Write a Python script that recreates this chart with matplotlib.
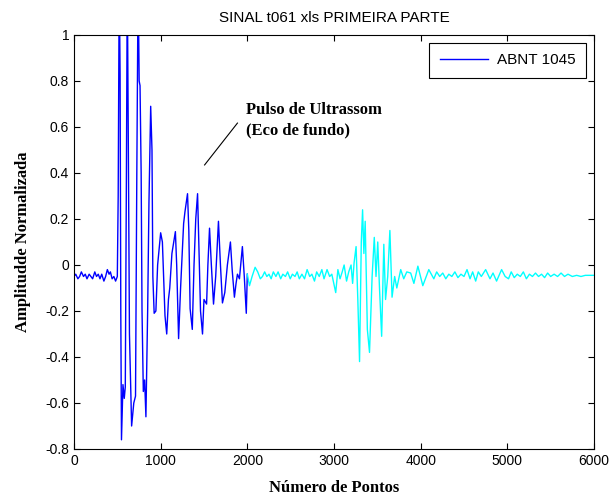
import matplotlib
matplotlib.use('Agg')
import matplotlib.pyplot as plt

# sinal: pulso (0-2000) e eco de fundo (2000-6000)
pulse_x = [0, 20, 45, 65, 85, 110, 130, 150, 175, 195, 215, 240, 260, 280, 300, 320, 345,
           365, 385, 405, 420, 440, 460, 480, 500,
           510, 522, 532, 540, 548, 565, 580, 592, 605, 615, 628, 640, 665, 690, 710, 725,
           740, 752, 762, 775, 785, 800, 815, 830, 850, 865, 885, 900, 910, 925, 945, 965,
           1000, 1020, 1050, 1070, 1090, 1105, 1130, 1170, 1185, 1207, 1230, 1265, 1280,
           1310, 1325, 1340, 1365, 1385, 1405, 1426, 1440, 1460, 1483, 1500, 1530, 1545,
           1564, 1585, 1610, 1635, 1667, 1690, 1713, 1740, 1770, 1805, 1825, 1851, 1870,
           1886, 1909, 1943, 1965, 1988, 2000]
pulse_y = [-0.05, -0.04, -0.06, -0.05, -0.03, -0.05, -0.04, -0.06, -0.04, -0.05, -0.06, -0.03,
           -0.05, -0.04, -0.06, -0.04, -0.07, -0.05, -0.02, -0.04, -0.03, -0.06, -0.05, -0.07,
           -0.05,
           0.3, 1.25, 0.83, -0.2, -0.76, -0.52, -0.58, -0.53, 0.4, 1.25, 0.46, -0.3, -0.70,
           -0.60, -0.57, 0.4, 1.25, 0.8, 0.78, 0.4, -0.2, -0.55, -0.50, -0.66, -0.2, 0.27,
           0.69, 0.5, -0.05, -0.21, -0.20, 0.0,
           0.14, 0.10, -0.22, -0.30, -0.15, -0.10, 0.05, 0.145, 0.0, -0.32, -0.1, 0.18, 0.23,
           0.31, 0.15, -0.19, -0.28, 0.0, 0.2, 0.31, 0.1, -0.2, -0.30, -0.15, -0.17, 0.0,
           0.16, 0.0, -0.17, -0.05, 0.19, 0.0, -0.165, -0.12, 0.0, 0.10, -0.02, -0.14, -0.08,
           -0.04, -0.06, 0.08, -0.05, -0.21, -0.04]

# ruido antes do eco
noise_x = [2000, 2025, 2055, 2090, 2120, 2150, 2175, 2200, 2225, 2250, 2275, 2300,
           2330, 2355, 2385, 2410, 2440, 2465, 2495, 2520, 2550, 2575, 2600, 2630,
           2660, 2690, 2720, 2745, 2775, 2800, 2830, 2860, 2885, 2920, 2950, 2975,
           3020, 3045, 3070, 3095, 3117, 3145, 3170, 3197, 3215]
noise_y = [-0.04, -0.09, -0.05, -0.01, -0.03, -0.06, -0.05, -0.03, -0.05, -0.04, -0.06, -0.03,
           -0.05, -0.03, -0.06, -0.04, -0.05, -0.03, -0.06, -0.04, -0.05, -0.03, -0.06, -0.04,
           -0.06, -0.02, -0.05, -0.04, -0.07, -0.03, -0.05, -0.02, -0.06, -0.02, -0.05, -0.04,
           -0.12, -0.02, -0.06, -0.03, 0.0, -0.07, -0.03, 0.0, -0.08]

# eco de fundo
echo_x = [3232, 3255, 3275, 3295, 3315, 3330, 3345, 3360, 3385, 3410, 3440,
          3465, 3485, 3505, 3525, 3550, 3575, 3595, 3620, 3645, 3670, 3700, 3725,
          3770, 3805, 3840, 3885, 3922, 3968, 4025, 4094, 4152]
echo_y = [0.01, 0.08, -0.15, -0.42, 0.10, 0.24, 0.05, 0.19, -0.28, -0.38, -0.05,
          0.12, -0.05, 0.10, -0.10, -0.31, 0.09, -0.15, -0.05, 0.15, -0.14, -0.05, -0.10,
          -0.02, -0.06, -0.03, -0.035, -0.08, -0.005, -0.09, -0.02, -0.06]

# ruido depois do eco
tail_x = [4185, 4220, 4255, 4290, 4325, 4360, 4395, 4430, 4465, 4500,
          4535, 4570, 4600, 4635, 4665, 4700, 4750, 4800, 4835, 4876,
          4934, 4975, 5014, 5045, 5080, 5115, 5150, 5185, 5220, 5255,
          5290, 5325, 5360, 5395, 5430, 5465, 5500, 5540, 5580, 5620,
          5660, 5700, 5750, 5800, 5850, 5900, 5950, 6000]
tail_y = [-0.03, -0.05, -0.035, -0.06, -0.04, -0.05, -0.03, -0.055, -0.04, -0.05,
          -0.02, -0.06, -0.03, -0.07, -0.03, -0.05, -0.02, -0.06, -0.035, -0.07,
          -0.02, -0.05, -0.06, -0.03, -0.055, -0.04, -0.05, -0.03, -0.06, -0.04,
          -0.05, -0.035, -0.05, -0.04, -0.055, -0.035, -0.05, -0.04, -0.05, -0.035,
          -0.05, -0.04, -0.05, -0.045, -0.05, -0.045, -0.045, -0.045]

x_ticks = [0, 1000, 2000, 3000, 4000, 5000, 6000]
y_ticks = [-0.8, -0.6, -0.4, -0.2, 0, 0.2, 0.4, 0.6, 0.8, 1]
y_tick_labels = ['-0.8', '-0.6', '-0.4', '-0.2', '0', '0.2', '0.4', '0.6', '0.8', '1']

plt.rcParams['font.family'] = ['Liberation Sans', 'DejaVu Sans']
serif_bold = {'family': 'Liberation Serif', 'weight': 'bold', 'size': 12}

fig = plt.figure(figsize=(6.14, 4.97), dpi=100)
ax = fig.add_axes([0.1205, 0.0966, 0.8469, 0.833])

ax.plot(pulse_x, pulse_y, color='#0000ff', lw=1.0, label='ABNT 1045')
ax.plot(noise_x + echo_x + tail_x, noise_y + echo_y + tail_y, color='#00ffff', lw=1.0)

ax.set_xlim(0, 6000)
ax.set_ylim(-0.8, 1)
ax.set_xticks(x_ticks)
ax.set_yticks(y_ticks)
ax.set_yticklabels(y_tick_labels)
ax.tick_params(direction='in', top=True, right=True, length=4, labelsize=10, width=0.8)
for s in ax.spines.values():
    s.set_linewidth(0.8)

ax.set_title('SINAL t061 xls PRIMEIRA PARTE', fontsize=11, pad=9)
ax.set_xlabel('Número de Pontos', fontdict=serif_bold, labelpad=9)
ax.set_ylabel('Amplitudde Normalizada', fontdict=serif_bold, labelpad=10)

# anotacao do pulso
ax.plot([1507, 1886], [0.435, 0.617], color='black', lw=0.8)
ax.text(1990, 0.674, 'Pulso de Ultrassom', fontdict=serif_bold, va='center')
ax.text(1990, 0.587, '(Eco de fundo)', fontdict=serif_bold, va='center')

leg = ax.legend(loc='upper right', fontsize=11, handlelength=3.15, handletextpad=0.6,
                borderpad=0.7, borderaxespad=0.5, fancybox=False, framealpha=1)
leg.get_frame().set_edgecolor('black')
leg.get_frame().set_linewidth(0.8)

fig.savefig('out.png', dpi=100)
